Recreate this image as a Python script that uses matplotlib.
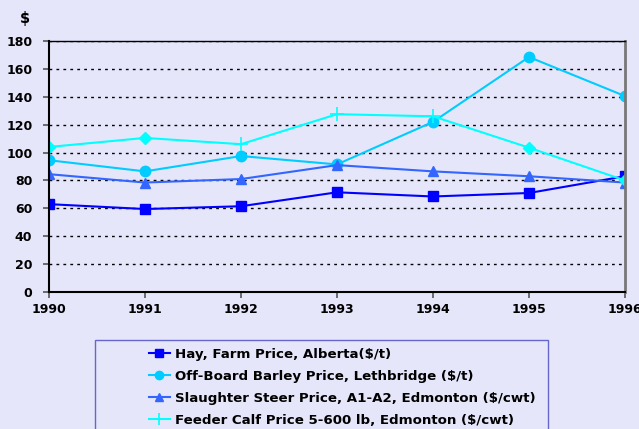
import matplotlib
matplotlib.use("Agg")
import matplotlib.pyplot as plt
from matplotlib.patches import Rectangle

plt.rcParams['font.family'] = ['DejaVu Sans']
plt.rcParams['font.weight'] = 'bold'

years = [1990, 1991, 1992, 1993, 1994, 1995, 1996]
hay = [63, 59.5, 61.5, 71.5, 68.5, 71, 83]
barley = [94.5, 86.5, 97.5, 91.5, 122, 168.5, 140.5]
steer = [84.5, 78.5, 81, 91, 86.5, 83, 78.5]
feeder = [104, 110.5, 106, 127.5, 126, 103.5, 80]

labels = ["Hay, Farm Price, Alberta($/t)",
          "Off-Board Barley Price, Lethbridge ($/t)",
          "Slaughter Steer Price, A1-A2, Edmonton ($/cwt)",
          "Feeder Calf Price 5-600 lb, Edmonton ($/cwt)"]

bg = '#E6E6FA'
fig = plt.figure(figsize=(6.39, 4.29), dpi=100, facecolor=bg)
ax = fig.add_axes([49/639, 1-292/429, 576/639, 251/429], facecolor=bg)

l1, = ax.plot(years, hay, color='#0000FF', marker='s', ms=7.5, lw=1.5)
l2, = ax.plot(years, barley, color='#00CCFF', marker='o', ms=7.5, lw=1.5)
l3, = ax.plot(years, steer, color='#3366FF', marker='^', ms=7.5, lw=1.5)
# feeder calf: line with mixed markers as in the original
ax.plot(years, feeder, color='#00FFFF', marker='+', ms=10, mew=1.2, lw=1.5,
        markevery=[2, 3, 4])
ax.plot(years, feeder, color='#00FFFF', marker='D', ms=6, lw=0,
        markevery=[0, 1, 5, 6])

ax.set_xlim(1990, 1996)
ax.set_ylim(0, 180)
ax.set_yticks(range(0, 181, 20))
ax.set_xticks(years)
ax.tick_params(labelsize=9, length=4, width=1.2, color='#555555')
ax.tick_params(axis='y', pad=8)
ax.tick_params(axis='x', pad=4)
ax.yaxis.grid(True, color='black', linestyle=(0, (2, 3)), lw=1)
ax.set_axisbelow(True)
ax.spines['left'].set_linewidth(1.5)
ax.spines['bottom'].set_linewidth(1.5)
ax.spines['top'].set_linewidth(1)
ax.spines['right'].set_color('#777777')
ax.spines['right'].set_linewidth(2)

fig.text(25/639, 1-18/429, '$', fontsize=10.5, fontweight='bold', ha='center', va='center')

fig.patches.append(Rectangle((95/639, -0.1), (548-95)/639, 0.1+1-340/429,
                             transform=fig.transFigure, facecolor=bg,
                             edgecolor='#6666CC', lw=1))
l4h, = ax.plot([], [], color='#00FFFF', marker='+', ms=10, mew=1.2, lw=1.5)
leg = fig.legend([l1, l2, l3, l4h], labels, loc='upper left',
                 bbox_to_anchor=(142/639, 1-341/429), frameon=False,
                 fontsize=9.6, handlelength=1.6, labelspacing=0.68, handletextpad=0.35,
                 borderpad=0, markerscale=0.8)

fig.savefig('out.png', dpi=100, facecolor=bg)
